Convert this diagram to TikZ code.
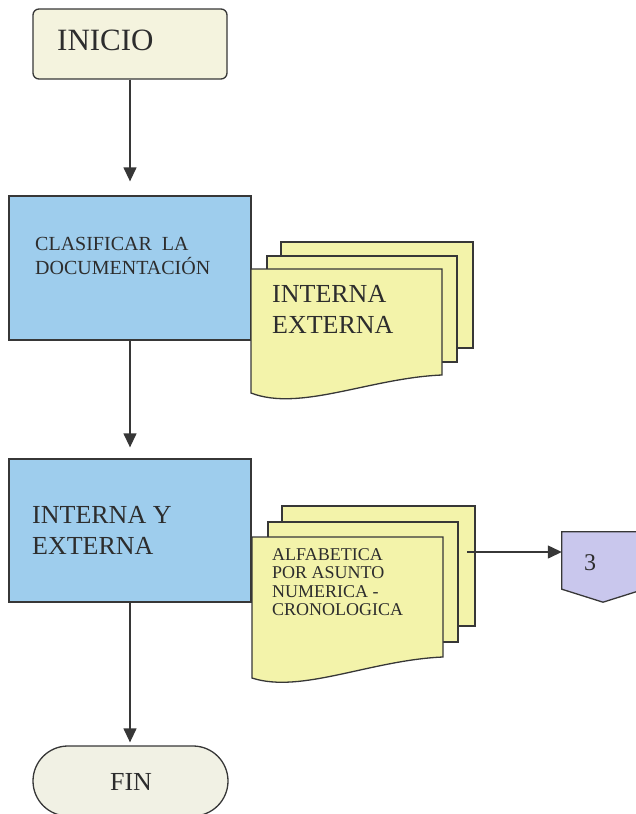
\documentclass[tikz,border=0pt]{standalone}
\usepackage{fontspec}
\setmainfont{Liberation Serif}
\usetikzlibrary{arrows.meta,calc,positioning}
\tikzset{>={Triangle[width=13pt,length=14pt]}}
\colorlet{background}{white}
\definecolor{penColor}{RGB}{55,55,55}
\definecolor{textColor}{RGB}{45,45,45}
\definecolor{fillIni}{RGB}{244,243,222}
\definecolor{fillFin}{RGB}{241,241,228}
\definecolor{fillProc}{RGB}{158,205,237}
\definecolor{fillDoc}{RGB}{243,243,170}
\definecolor{fillConn}{RGB}{201,199,237}

\begin{document}
\begin{tikzpicture}[x=1pt,y=-1pt,
    caja/.style={draw=penColor,line width=1.3pt,inner sep=0pt},
    hoja/.style={caja,fill=fillDoc},
    flecha/.style={->,draw=penColor,fill=penColor,line width=1.3pt},
    texto/.style={inner sep=0pt,text=textColor,align=left}]
      \useasboundingbox (0,0) rectangle (635,814);
      % inicio
      \node [caja,fill=fillIni,rounded corners=6pt,minimum width=194pt,minimum height=70pt] (inicio) at (130,44) {};
      \node [texto,anchor=base west,font=\fontsize{31}{31}\selectfont] (inicioTxt) at (57,50) {INICIO};
      % clasificar
      \node [caja,fill=fillProc,minimum width=242pt,minimum height=144pt] (clasif) at (130,268) {};
      \node [texto,anchor=north west,font=\fontsize{20}{24}\selectfont] (clasifTxt) at (35,237) {CLASIFICAR\ \ LA\\DOCUMENTACIÓN};
      \node [hoja,minimum width=192pt,minimum height=106pt] (docAc) at (377,295) {};
      \node [hoja,minimum width=190pt,minimum height=106pt] (docAb) at (362,309) {};
      \draw [hoja] (251,269) -- (442,269) -- (442,375) .. controls (370,378) and (300,412) .. (251,393) -- cycle;
      \node [texto,anchor=north west,font=\fontsize{26}{31}\selectfont] (docATxt) at (272,285) {INTERNA\\EXTERNA};
      % interna y externa
      \node [caja,fill=fillProc,minimum width=242pt,minimum height=143pt] (intext) at (130,530.5) {};
      \node [texto,anchor=north west,font=\fontsize{26}{31}\selectfont] (intextTxt) at (32,506) {INTERNA Y\\EXTERNA};
      \node [hoja,minimum width=193pt,minimum height=120pt] (docBc) at (378.5,566) {};
      \node [hoja,minimum width=190pt,minimum height=120pt] (docBb) at (363,582) {};
      \draw [hoja] (252,537) -- (443,537) -- (443,657) .. controls (371,660) and (301,694) .. (252,678) -- cycle;
      \node [texto,anchor=north west,font=\fontsize{18}{18.4}\selectfont] (docBTxt) at (272,548.2) {ALFABETICA\\POR ASUNTO\\NUMERICA -\\CRONOLOGICA};
      % conector 3
      \coordinate (salida) at (467,552);
      \node [inner sep=0pt,minimum width=82pt,minimum height=57pt] (conn3) at (603,560.5) {};
      \draw [caja,fill=fillConn] (conn3.north west) -- (conn3.north east) -- (conn3.south east)
        -- ($(conn3.south)+(0,13)$) -- (conn3.south west) -- cycle;
      \node [texto,font=\fontsize{24}{24}\selectfont] (conn3Txt) at (590,563) {3};
      % fin
      \node [caja,fill=fillFin,rounded corners=35pt,minimum width=195pt,minimum height=70pt] (fin) at (130.5,781) {};
      \node [texto,font=\fontsize{26}{26}\selectfont] (finTxt) at (131,781.5) {FIN};
      % flechas
      \draw [flecha,shorten >=14pt] (inicio.south) -- (clasif.north);
      \draw [flecha,shorten >=11pt] (clasif.south) -- (intext.north);
      \draw [flecha,shorten >=3pt] (intext.south) -- (intext.south |- fin.north);
      \draw [flecha] (salida) -- (salida -| conn3.west);
    \end{tikzpicture}
\end{document}
